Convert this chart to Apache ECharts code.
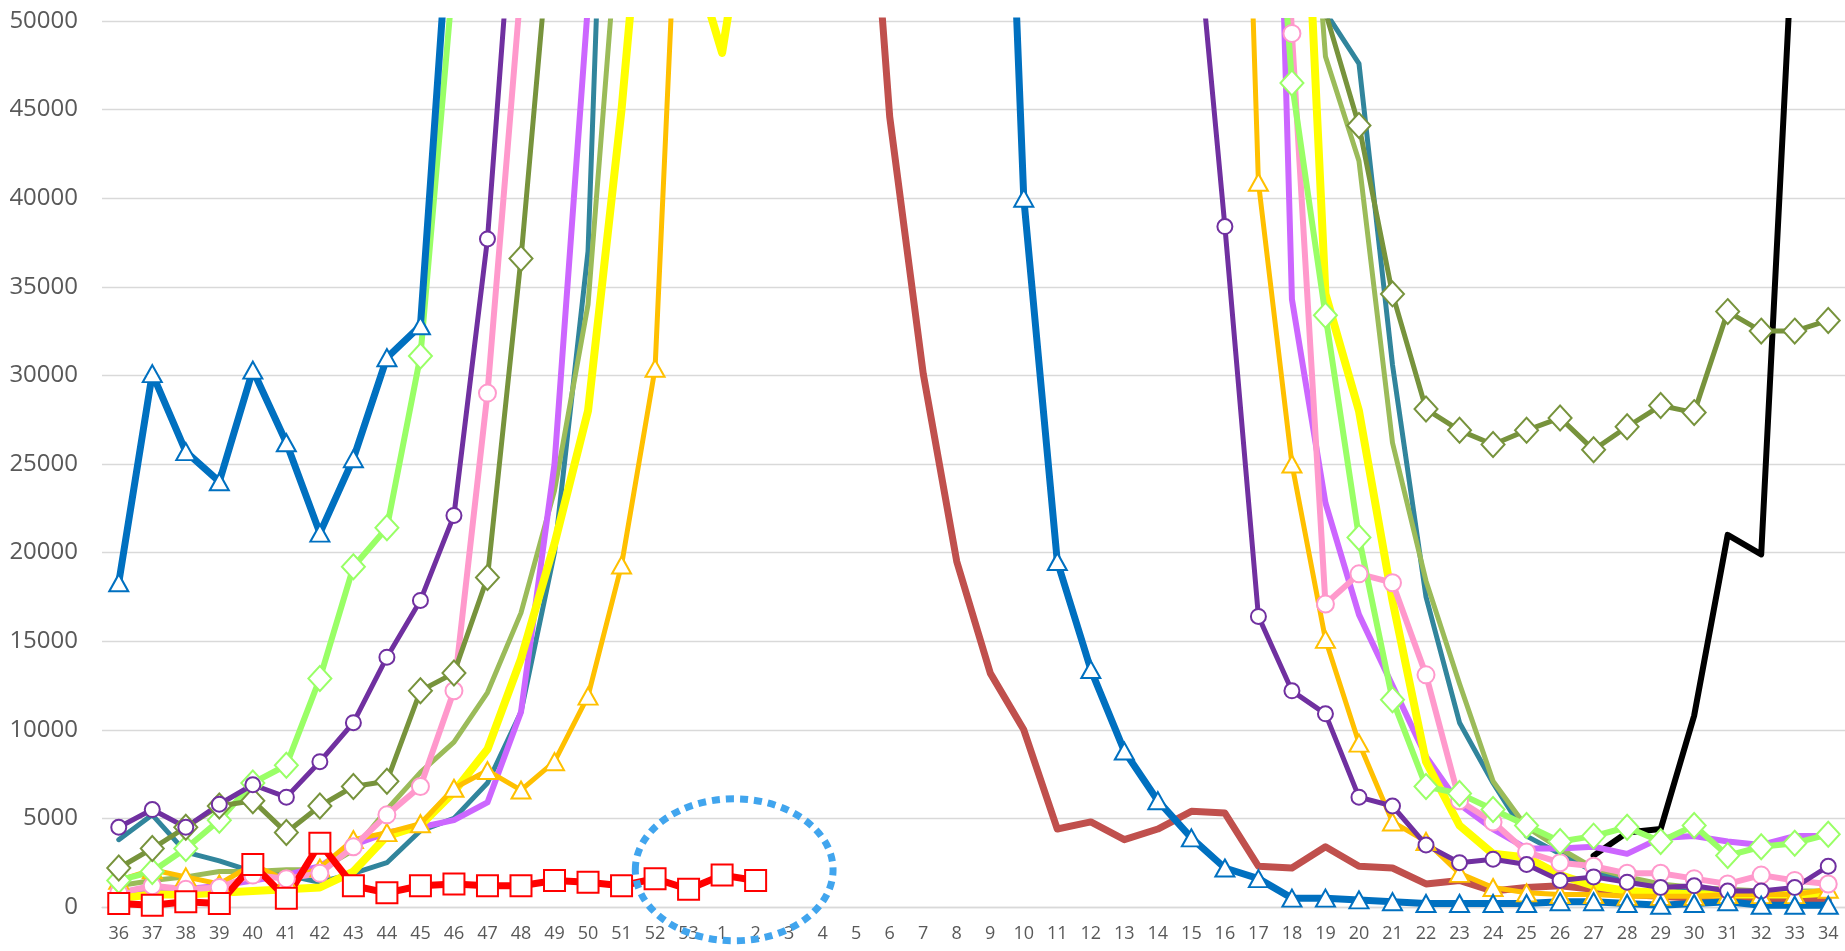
<!DOCTYPE html>
<html><head><meta charset="utf-8">
<script src="https://cdn.jsdelivr.net/npm/echarts@6/dist/echarts.min.js"></script>
<style>html,body{margin:0;padding:0;background:#fff}#c{width:1845px;height:951px}</style>
</head><body><div id="c"></div>
<script>
const weeks = ['36','37','38','39','40','41','42','43','44','45','46','47','48','49','50','51','52','53',
  '1','2','3','4','5','6','7','8','9','10','11','12','13','14','15','16','17','18','19','20','21','22','23','24','25','26','27','28','29','30','31','32','33','34'];
const yTicks = {min: 0, max: 50000, step: 5000};

const blue = [18300,30100,25700,24000,30300,26200,21100,25300,31000,32800,59700,90000,120000,140000,160000,175000,185000,190000,195000,185000,170000,150000,130000,115000,100000,92000,88000,40000,19500,13400,8800,6000,3900,2200,1600,500,500,400,300,200,200,200,200,300,300,200,100,200,300,100,100,100];
const green = [1500,2000,3300,4900,7000,8000,12900,19200,21400,31100,53000,80000,110000,140000,160000,170000,175000,180000,180000,175000,170000,160000,150000,140000,130000,120000,110000,100000,95000,90000,85000,82000,80000,78000,73000,46500,33400,20850,11700,6800,6400,5500,4600,3700,4000,4500,3700,4600,2900,3400,3600,4100];
const olive = [2200,3300,4500,5700,6000,4200,5700,6800,7100,12200,13200,18600,36600,58000,80000,100000,120000,130000,140000,140000,135000,130000,125000,120000,115000,110000,105000,100000,95000,90000,85000,80000,75000,72000,70000,68000,50500,44100,34600,28100,26900,26100,26900,27600,25800,27100,28300,27900,33600,32500,32500,33100];
const purple = [4500,5500,4500,5800,6900,6200,8200,10400,14100,17300,22100,37700,63000,90000,120000,140000,150000,155000,160000,155000,150000,140000,130000,120000,110000,100000,95000,90000,85000,80000,72000,65000,58800,38400,16400,12200,10900,6200,5700,3500,2500,2700,2400,1500,1700,1400,1100,1200,900,900,1100,2300];
const pink = [800,1200,1000,1100,1800,1600,1900,3400,5200,6800,12200,29000,52000,80000,110000,130000,150000,160000,165000,160000,155000,150000,140000,130000,125000,120000,115000,110000,105000,100000,98000,95000,93000,92000,90000,49300,17100,18800,18300,13100,6000,4800,3100,2500,2300,1900,1900,1600,1300,1800,1500,1300];
const violet = [800,1000,1000,1200,1500,1800,2300,3500,4200,4500,4900,5900,11000,25000,51000,80000,110000,130000,150000,160000,165000,160000,155000,150000,145000,140000,135000,130000,125000,120000,115000,110000,108000,105000,102000,34300,22800,16500,12500,8500,5800,4400,3300,3300,3400,3000,3900,4000,3700,3500,4000,4000];
const teal = [3800,5200,3100,2600,2000,1800,1400,1900,2500,4300,5000,7000,11000,20000,37000,90000,120000,140000,150000,160000,165000,165000,160000,155000,150000,145000,140000,135000,130000,125000,120000,110000,100000,95000,90000,80000,50500,47600,30600,17500,10400,7000,4000,3000,2000,1500,1200,1000,900,800,800,800];
const lightOlive = [1200,1500,1700,2000,2000,2100,2100,3200,5500,7600,9300,12100,16600,23500,34000,58000,80000,100000,120000,130000,135000,135000,130000,125000,120000,115000,110000,105000,100000,95000,90000,85000,80000,78000,75000,73000,48000,42100,26200,18400,12600,7100,4500,3300,2200,1700,1300,1100,1000,900,900,900];
const yellow = [500,700,700,800,900,1000,1100,2000,4000,4600,6500,8900,14000,20500,28000,45000,66000,54500,48200,60000,90000,120000,140000,150000,155000,160000,160000,155000,150000,140000,130000,120000,110000,100000,90000,75000,34600,28000,17300,8200,4600,3000,2800,1800,1200,900,800,700,700,700,700,800];
const orange = [1500,2100,1700,1300,2400,1500,2200,3800,4200,4700,6700,7700,6600,8200,11900,19300,30400,72000,100000,120000,140000,150000,155000,155000,150000,145000,140000,135000,130000,125000,120000,115000,110000,100000,40900,25000,15100,9250,4800,3700,1900,1100,800,700,700,600,600,600,700,700,700,1000];
const redBrownStart = 20;
const redBrown = [120000,100000,70000,44600,30100,19500,13200,10000,4400,4800,3800,4400,5400,5300,2300,2200,3400,2300,2200,1300,1500,900,1100,1200,1000,700,600,500,500,400,400,400];
const blackStart = 44;
const black = [2900,4200,4400,10800,21000,19900,57000,85000];
const redSq = [200,100,300,200,2400,500,3600,1200,800,1200,1300,1200,1200,1500,1400,1200,1600,1000,1800,1500];

function place(start, vals) {
  const out = new Array(weeks.length).fill(null);
  vals.forEach((v, i) => { out[start + i] = v; });
  return out;
}

function mk(name, data, color, width, symbol, size, bw) {
  const s = {
    name, type: 'line', data, clip: true, connectNulls: false,
    lineStyle: {color, width, cap: 'round', join: 'round'},
    itemStyle: {color: '#ffffff', borderColor: color, borderWidth: bw || 2},
    emphasis: {disabled: true}
  };
  if (symbol) { s.symbol = symbol; s.symbolSize = size; s.showSymbol = true; }
  else { s.symbol = 'none'; s.showSymbol = false; }
  return s;
}

const chart = echarts.init(document.getElementById('c'), null, {renderer: 'canvas'});
chart.setOption({
  animation: false,
  backgroundColor: '#ffffff',
  grid: {left: 102, right: 0, top: 21, bottom: 44, containLabel: false},
  xAxis: {
    type: 'category', data: weeks, boundaryGap: true,
    axisTick: {show: false},
    axisLine: {lineStyle: {color: '#D9D9D9', width: 1.3}},
    axisLabel: {interval: 0, color: '#595959', fontSize: 18, fontFamily: 'Open Sans', margin: 18}
  },
  yAxis: {
    type: 'value', min: yTicks.min, max: yTicks.max, interval: yTicks.step,
    axisLine: {show: false}, axisTick: {show: false},
    splitLine: {lineStyle: {color: '#D9D9D9', width: 1.3}},
    axisLabel: {color: '#595959', fontSize: 24, fontFamily: 'Open Sans', margin: 24,
      formatter: v => String(v)}
  },
  series: [
    mk('black', place(blackStart, black), '#000000', 6),
    mk('redBrown', place(redBrownStart, redBrown), '#C0504D', 7),
    mk('teal', teal, '#31859C', 5),
    mk('lightOlive', lightOlive, '#9BBB59', 5),
    mk('violet', violet, '#CC66FF', 6),
    mk('yellow', yellow, '#FFFF00', 8),
    mk('orange', orange, '#FFC000', 5, 'triangle', [19, 17], 2),
    mk('pink', pink, '#FF99CC', 6, 'circle', 17, 2),
    mk('green', green, '#99FF66', 6, 'diamond', [23, 25], 2),
    mk('olive', olive, '#77933C', 5, 'diamond', [23, 25], 2),
    mk('purple', purple, '#7030A0', 5, 'circle', 15, 2),
    mk('blue', blue, '#0070C0', 7, 'triangle', [19, 17], 2),
    mk('red', place(0, redSq), '#FF0000', 7, 'rect', 21, 2)
  ]
});

// dotted annotation ellipse around weeks 53–2 near the baseline
const a = chart.convertToPixel({xAxisIndex: 0, yAxisIndex: 0}, [18, 2100]);
const b = chart.convertToPixel({xAxisIndex: 0, yAxisIndex: 0}, [19, 2100]);
const band = b[0] - a[0];
chart.setOption({
  graphic: [{
    type: 'ellipse', silent: true, z: 100,
    shape: {cx: a[0] + 0.36 * band, cy: a[1], rx: 2.95 * band, ry: 71},
    style: {fill: 'none', stroke: '#41A5EE', lineWidth: 7, lineDash: [8, 6]}
  }]
});
</script></body></html>
